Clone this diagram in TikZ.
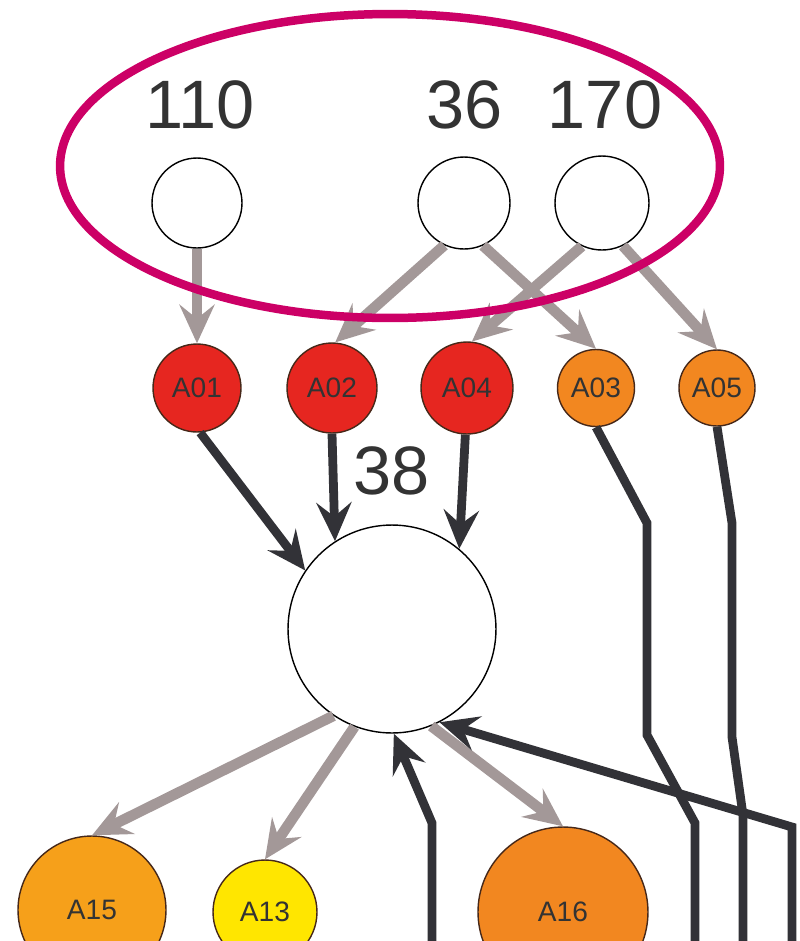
\documentclass[tikz,border=0pt]{standalone}
\usepackage{fontspec}
\setmainfont{Liberation Sans}
\usepackage{xcolor}
\usepackage{tikz}
\usetikzlibrary{arrows.meta}

\definecolor{ringpink}{RGB}{204,0,102}
\definecolor{arrowgray}{RGB}{163,152,152}
\definecolor{arrowdark}{RGB}{50,50,55}
\definecolor{rimbrown}{RGB}{70,40,25}
\definecolor{hotred}{RGB}{230,38,32}
\definecolor{warmorange}{RGB}{242,135,32}
\definecolor{amber}{RGB}{246,160,26}
\definecolor{sunyellow}{RGB}{255,230,0}
\definecolor{labelgray}{RGB}{51,51,51}

\begin{document}
\begin{tikzpicture}[x = 0.02cm, y = -0.02cm,
            blank/.style = {circle, draw = black, fill = white, line width = 0.8pt, inner sep = 0pt},
            site/.style = {circle, draw = rimbrown, line width = 0.8pt, inner sep = 0pt, text = labelgray, font = \fontsize{16}{18}\selectfont},
            num/.style = {inner sep = 0pt, text = labelgray, font = \fontsize{39}{41}\selectfont},
            gray edge/.style = {arrowgray, line width = 6pt, -{Stealth[length = 22pt, width = 20pt, inset = 8pt]}},
            dark edge/.style = {arrowdark, line width = 5pt, -{Stealth[length = 22pt, width = 20pt, inset = 8pt]}},
            dark line/.style = {arrowdark, line width = 5pt}]
            \useasboundingbox (0,0) rectangle (800,941);
            \clip (0,0) rectangle (800,941);
            \node[blank, minimum size = 1.8cm] (n110) at (197,203) {};
            \node[blank, minimum size = 1.84cm] (n36) at (464,203) {};
            \node[blank, minimum size = 1.88cm] (n170) at (602,203) {};
            \node[num] (l110) at (200,105) {110};
            \node[num] (l36) at (465,105) {36};
            \node[num] (l170) at (605,105) {170};
            \node[site, fill = hotred, minimum size = 1.76cm] (a01) at (197,388) {A01};
            \node[site, fill = hotred, minimum size = 1.8cm] (a02) at (332,388) {A02};
            \node[site, fill = hotred, minimum size = 1.84cm] (a04) at (467,388) {A04};
            \node[site, fill = warmorange, minimum size = 1.54cm] (a03) at (596,388) {A03};
            \node[site, fill = warmorange, minimum size = 1.52cm] (a05) at (717,388) {A05};
            \node[blank, minimum size = 4.16cm] (n38) at (392,629) {};
            \node[num] (l38) at (392,471) {38};
            \node[site, fill = amber, minimum size = 2.96cm] (a15) at (92,910) {A15};
            \node[site, fill = sunyellow, minimum size = 2.08cm] (a13) at (265,912) {A13};
            \node[site, fill = warmorange, minimum size = 3.4cm] (a16) at (563,912) {A16};
            \coordinate (foot03) at (695,950);
            \coordinate (foot05) at (743,950);
            \coordinate (footright) at (792,950);
            \coordinate (footmid) at (432,950);
            \draw[gray edge] (n110) -- (a01);
            \draw[gray edge] (n36.245) -- (a02.86);
            \draw[gray edge] (n36.294) -- (a03.north);
            \draw[gray edge] (n170.245) -- (a04.84);
            \draw[gray edge] (n170.296) -- (a05.north);
            \draw[ringpink, line width = 0.17cm] (390,166) ellipse [x radius = 6.6cm, y radius = 3.04cm];
            \draw[dark edge] (a01.274) -- (n38.146);
            \draw[dark edge] (a02.south) -- (n38.123);
            \draw[dark edge] (a04.268) -- (n38.50);
            \draw[gray edge] (n38.236) -- (a15.north);
            \draw[gray edge] (n38.249) -- (a13.north);
            \draw[gray edge] (n38.292) -- (a16.north);
            \draw[dark line] (a03.south) -- (647,523) -- (647,735) -- (695,823) -- (foot03);
            \draw[dark line] (a05.south) -- (732,523) -- (732,737) -- (743,815) -- (foot05);
            \draw[dark edge] (footright) -- (792,827) -- (n38.297);
            \draw[dark edge] (footmid) -- (432,823) -- (n38.271);
\end{tikzpicture}
\end{document}
